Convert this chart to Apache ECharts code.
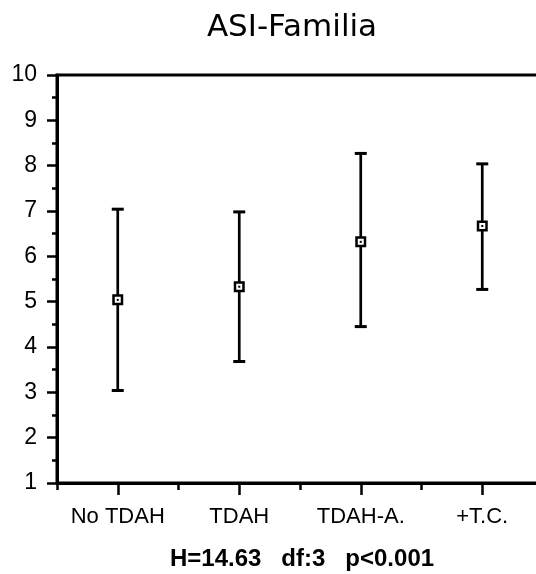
<!DOCTYPE html>
<html>
<head>
<meta charset="utf-8">
<script src="https://cdn.jsdelivr.net/npm/echarts@6/dist/echarts.min.js"></script>
<style>
html,body{margin:0;padding:0;background:#fff;}
#chart{width:536px;height:574px;}
</style>
</head>
<body>
<div id="chart"></div>
<script>
var categories = ['No TDAH', 'TDAH', 'TDAH-A.', '+T.C.'];
var meanValues = [5.04, 5.33, 6.32, 6.67];
var upperValues = [7.04, 6.98, 8.27, 8.04];
var lowerValues = [3.04, 3.68, 4.45, 5.27];
var yTicks = [1, 2, 3, 4, 5, 6, 7, 8, 9, 10];
var titleText = 'ASI-Familia';
var statText = 'H=14.63   df:3   p<0.001';

var sans = '"Liberation Sans", Arial, sans-serif';

var data = categories.map(function (c, i) {
  return [i, meanValues[i], lowerValues[i], upperValues[i]];
});

var chart = echarts.init(document.getElementById('chart'), null, {renderer: 'canvas'});
chart.setOption({
  animation: false,
  backgroundColor: '#fff',
  title: {
    text: titleText,
    left: 287,
    top: 7,
    textAlign: 'center',
    textStyle: {fontFamily: '"DejaVu Sans", sans-serif', fontSize: 31, fontWeight: 'normal', color: '#000'}
  },
  graphic: [{
    type: 'text',
    x: 302,
    y: 559,
    style: {
      text: statText,
      textAlign: 'center',
      textVerticalAlign: 'middle',
      fontFamily: sans,
      fontWeight: 'bold',
      fontSize: 24,
      fill: '#000'
    }
  }],
  grid: {
    left: 57, top: 75, width: 486, height: 408,
    outerBoundsMode: 'none',
    containLabel: false,
    show: true, borderColor: '#000', borderWidth: 3, backgroundColor: 'transparent'
  },
  xAxis: [{
    type: 'category',
    position: 'bottom',
    data: categories,
    boundaryGap: true,
    axisLine: {show: true, lineStyle: {color: '#000', width: 3}},
    axisTick: {show: true, alignWithLabel: true, length: 12, lineStyle: {color: '#000', width: 2.5}},
    axisLabel: {show: true, interval: 0, margin: 23, color: '#000', fontFamily: sans, fontSize: 22},
    splitLine: {show: false}
  }, {
    type: 'category',
    position: 'top',
    offset: -408,
    data: categories,
    boundaryGap: true,
    axisLine: {show: false},
    axisTick: {show: true, inside: true, alignWithLabel: false, length: 7, lineStyle: {color: '#000', width: 2.5}},
    axisLabel: {show: false},
    splitLine: {show: false}
  }],
  yAxis: {
    type: 'value',
    min: yTicks[0],
    max: yTicks[yTicks.length - 1],
    interval: 1,
    axisLine: {show: true, lineStyle: {color: '#000', width: 3}},
    axisTick: {show: true, length: 10, lineStyle: {color: '#000', width: 2.5}},
    minorTick: {show: true, splitNumber: 2, length: 5, lineStyle: {color: '#000', width: 2.5}},
    axisLabel: {margin: 20, color: '#000', fontFamily: sans, fontSize: 23},
    splitLine: {show: false}
  },
  series: [{
    type: 'custom',
    xAxisIndex: 0,
    yAxisIndex: 0,
    data: data,
    encode: {x: 0, y: [1, 2, 3]},
    renderItem: function (params, api) {
      var x = api.value(0);
      var pm = api.coord([x, api.value(1)]);
      var pl = api.coord([x, api.value(2)]);
      var pu = api.coord([x, api.value(3)]);
      var cx = pm[0];
      var hw = 6;
      var s = 5.5;
      var ls = {stroke: '#000', lineWidth: 2.7};
      return {
        type: 'group',
        children: [
          {type: 'line', shape: {x1: cx, y1: pu[1], x2: cx, y2: pl[1]}, style: ls},
          {type: 'line', shape: {x1: cx - hw, y1: pu[1], x2: cx + hw, y2: pu[1]}, style: {stroke: '#000', lineWidth: 3}},
          {type: 'line', shape: {x1: cx - hw, y1: pl[1], x2: cx + hw, y2: pl[1]}, style: {stroke: '#000', lineWidth: 3}},
          {type: 'rect', shape: {x: cx - s + 1.25, y: pm[1] - s + 1.25, width: 2 * s - 2.5, height: 2 * s - 2.5}, style: {fill: '#fff', stroke: '#000', lineWidth: 2.5}},
          {type: 'rect', shape: {x: cx - 1, y: pm[1] - 1, width: 2, height: 2}, style: {fill: '#000'}}
        ]
      };
    }
  }]
});
</script>
</body>
</html>
